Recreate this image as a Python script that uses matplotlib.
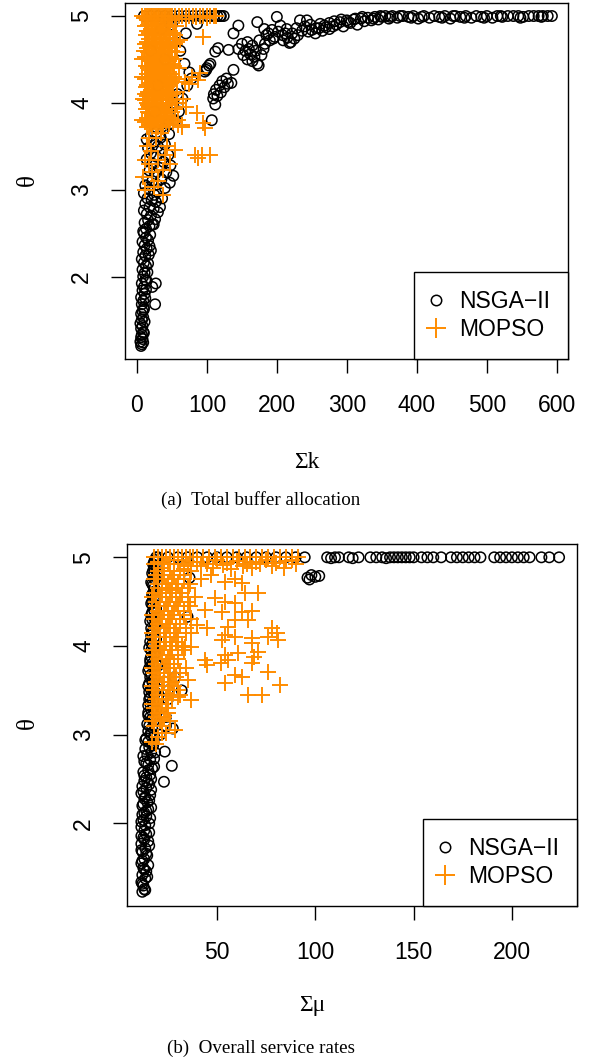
import matplotlib
matplotlib.use("Agg")
import matplotlib.pyplot as plt
from matplotlib.lines import Line2D

# ---------------- data: panel (a) total buffer allocation ----------------
nsga_k_x = [6,7,5,8,6,7,9,6,8,5,7,9,6,8,10,7,9,6,11,8,10,7,12,9,11,8,13,10,7,12,9,14,11,8,13,10,
            9,10,11,10,12,13,14,15,16,17,18,16,19,
            26,27,22,20,24,
            9,13,18,22,11,16,26,20,14,30,10,24,18,33,12,27,21,15,36,25,10,30,
            18,40,12,28,47,22,35,15,52,26,42,18,33,48,22,38,14,28,45,20,35,16,30,40,24,14,34,20,46,28,38,
            45,55,60,52,65,58,72,78,75,68,62,55,70,86,50,40,30,25,20,35,45,
            10,20,30,40,50,60,70,80,90,100,105,110,115,120,124,
            107,112,109,115,120,113,125,118,130,122,135,128,138,110,
            97,100,103,105,99,
            112,116,131,138,145,119,
            145,152,155,158,162,165,168,172,174,160,170,178,181,
            172,200,193,205,185,190,197,182,
            209,215,220,225,230,212,218,
            233,243,
            245,250,255,260,265,270,275,280,
            285,290,295,300,305,310,315,320,325,330,335,340,345,350,
            355,360,365,372,380,388,395,402,410,418,425,432,440,448,455,462,470,478,485,492,500,508,515,522,
            530,538,545,552,560,567,574,580,587,593,
            150,158,165,175,183,188,195,202,208,214,222,228,236,240,248,256,262,268,275,282,292,302,312,322,
            338,348,362,376,392,407,436,452,468,496,520,548,578]
nsga_k_y = [1.20,1.22,1.25,1.28,1.30,1.33,1.36,1.40,1.43,1.46,1.50,1.53,1.57,1.60,1.64,1.68,1.72,1.76,1.80,1.84,1.88,1.92,1.96,2.00,2.04,2.08,2.12,2.16,2.20,2.24,2.28,2.32,2.36,2.40,2.45,2.50,
            1.24,1.35,1.48,1.62,1.75,1.85,1.95,2.05,2.15,2.25,2.35,2.42,2.48,
            1.68,1.92,1.88,2.30,2.60,
            2.52,2.55,2.58,2.60,2.62,2.65,2.66,2.70,2.72,2.74,2.76,2.78,2.80,2.80,2.84,2.86,2.88,2.90,2.90,2.94,2.96,2.98,
            3.00,3.02,3.05,3.06,3.08,3.10,3.12,3.14,3.16,3.18,3.20,3.22,3.25,3.28,3.30,3.32,3.35,3.38,3.40,3.42,3.45,3.48,3.50,3.52,3.55,3.58,3.60,3.62,3.64,3.66,3.70,
            3.75,3.80,3.90,4.00,4.05,4.10,4.20,4.28,4.35,4.45,4.60,4.70,4.80,4.91,4.90,4.50,4.20,3.90,4.60,4.85,4.95,
            5.0,5.0,5.0,5.0,5.0,5.0,5.0,5.0,5.0,5.0,5.0,5.0,5.0,5.0,5.0,
            3.80,3.98,4.05,4.08,4.12,4.15,4.18,4.20,4.22,4.25,4.23,4.28,4.38,4.10,
            4.36,4.40,4.43,4.45,4.38,
            4.59,4.63,4.61,4.80,4.89,5.0,
            4.62,4.55,4.60,4.50,4.56,4.48,4.53,4.45,4.43,4.62,4.60,4.55,4.62,
            4.93,4.99,4.84,4.89,4.78,4.72,4.76,4.85,
            4.72,4.75,4.70,4.74,4.78,4.80,4.69,
            4.95,4.95,
            4.82,4.84,4.80,4.86,4.83,4.87,4.85,4.88,
            4.90,4.93,4.88,4.95,4.92,4.96,4.90,4.97,4.94,4.98,4.95,4.99,4.96,4.99,
            5.0,4.97,5.0,4.98,5.0,4.99,5.0,4.97,5.0,4.98,5.0,4.99,5.0,4.97,5.0,4.99,5.0,4.98,5.0,4.99,5.0,4.98,5.0,4.99,
            5.0,5.0,5.0,4.99,5.0,5.0,5.0,5.0,5.0,5.0,
            4.68,4.70,4.66,4.72,4.68,4.80,4.74,4.82,4.78,4.85,4.80,4.86,4.83,4.88,4.90,4.86,4.91,4.89,4.92,4.94,4.96,4.93,4.97,4.99,
            4.97,5.0,4.99,5.0,4.98,4.99,4.98,5.0,4.98,4.98,5.0,4.98,4.99]

mopso_k_x = [8,12,15,18,20,22,25,28,30,32,35,38,40,42,45,48,50,55,60,65,70,75,80,85,90,95,100,105,110,113,
             10,25,40,55,70,85,100,
             16,22,30,38,45, 18,25,33,42,52, 15,21,28,36,47,58, 17,24,31,40,50, 14,20,27,35,44,55,
             16,23,30,38,48,60, 13,19,26,34,43,53, 15,22,29,37,46, 12,18,25,33,41,52, 14,21,28,36,45,57,
             16,23,31,40,50, 13,19,27,35,44,59, 15,22,30,38,64,
             20,35,28,48,19,44,26,38,33,52,21,40,28,50,20,36,24,48,18,34,26,42,20,46,
             8,7,9,10,8,
             9,12,25,37,38,12,30,15,43,55,59,64,20,28,35,18,22,30,18,40,48,
             95,79,88,75,69,90,86,98,95,83,93,105,88,62,66,70,
             14,27,36,50, 12,26,34,48,56, 15,29,39,47, 13,22,31,44,55, 17,26,35,41,52,
             12,23,33,39,54, 14,21,29,37,46, 16,26,34,43,57, 12,23,31,40,49, 17,25,30,38,46,
             13,20,27,35,44,53, 18,26,33,42, 15,23,30,39,48, 11,20,27,36,44,56, 17,24,32,41,49,
             13,21,28,35,43, 16,24,31,39,47,58, 14,21,29,37,44, 11,18,26,34,41,50, 16,23,30,38,46,
             13,20,27,35,43,54, 17,24,32,39, 14,22,30,37,48, 12,19,25,33,41,52, 17,27,36]
mopso_k_y = [5.0]*30 + \
            [4.98,4.97,4.96,4.98,4.97,4.99,4.98] + \
            [4.9]*5 + [4.8]*5 + [4.7]*6 + [4.6]*5 + [4.5]*6 + \
            [4.4]*6 + [4.3]*6 + [4.2]*5 + [4.1]*6 + [4.0]*6 + \
            [3.9]*5 + [3.8]*6 + [3.72]*5 + \
            [4.85,4.85,4.75,4.75,4.65,4.65,4.55,4.55,4.45,4.45,4.35,4.35,4.25,4.25,4.15,4.15,4.05,4.05,3.95,3.95,3.85,3.85,3.76,3.76] + \
            [4.3,3.80,4.05,4.6,4.5] + \
            [3.15,3.0,3.03,2.94,3.23,3.34,3.34,3.5,3.5,3.46,3.75,3.75,3.45,3.6,3.65,3.3,3.2,3.1,3.6,3.4,3.3] + \
            [4.76,4.30,4.26,4.22,4.24,4.34,3.88,3.71,3.77,3.40,3.40,3.40,3.36,4.72,4.05,3.95] + \
            [4.95]*4 + [4.88]*5 + [4.83]*4 + [4.78]*5 + [4.73]*5 + \
            [4.68]*5 + [4.63]*5 + [4.58]*5 + [4.53]*5 + [4.48]*5 + \
            [4.43]*6 + [4.38]*4 + [4.33]*5 + [4.28]*6 + [4.23]*5 + \
            [4.18]*5 + [4.13]*6 + [4.08]*5 + [4.03]*6 + [3.98]*5 + \
            [3.93]*6 + [3.88]*4 + [3.83]*5 + [3.78]*6 + [3.74]*3

# ---------------- data: panel (b) overall service rates ----------------
nsga_m_x = [12,13,12.5,11.5,13.5,12,14,12.5,11.5,13,14.5,12,13.5,11.5,15,12.5,14,13,11.5,15.5,12.5,14,13,15,12,14.5,13,16,12.5,14,15.5,13,
            14,16,12.5,17,15,13,18,14.5,16.5,13.5,17.5,15,14,16,
            23.4,27,23,27.5,24,32,28.5,35,36,25,
            15,17,14.5,18,16,15,17.5,16,15.5,18,16.5,15,17,16,18.5,15.5,17,16,18,16.5,17.5,16,18,17,16.5,18.5,17,16.5,18,17.5,17,18.5,17.5,18,17,18.5,18,17.5,19,18,19,
            22,25,23,20,24,21,
            20,25,30,35,40,45,50,55,60,65,70,75,80,85,90,94.6,
            96,98,100,102,97,
            106,108,110,112,117,119,122,128,131,134,136,138,140,142,144,146,148,150,154,157,160,164,169,172,175,178,181,184,191,194,197,200,203,206,209,215,219,224,
            16.5,15.5,18.5,17,15,16.5,19,15,17.5,16,15.5,18.5,17,15.5,18,16.5,15,17.5,19.5,16,16.5,18.5,15.5,17,19,16.5,17.5,19,16,18,17,19,16.5,18,17,19,17.5,16.5,19,17,18,17.5,18.5,
            13.5,12,14.5,13,15,12,14,11.5,15.5,13,11.5,15.5,13.5,11.5,16,12,14,16.5,12.5,15.5,13.5,11.5,16.5,12,14.5,16.5,13,15,18,14,16,12.5,18.5,15.5,17,13.5,18]
nsga_m_y = [1.23,1.26,1.30,1.34,1.38,1.42,1.46,1.50,1.55,1.60,1.64,1.68,1.72,1.77,1.80,1.84,1.88,1.92,1.96,2.00,2.04,2.08,2.12,2.16,2.20,2.24,2.28,2.32,2.36,2.40,2.44,2.48,
            2.52,2.55,2.58,2.62,2.66,2.70,2.73,2.77,2.80,2.84,2.88,2.92,2.96,3.00,
            2.81,2.65,2.47,3.07,3.10,3.50,3.65,4.33,4.77,3.40,
            3.04,3.08,3.12,3.16,3.20,3.25,3.30,3.35,3.40,3.45,3.50,3.55,3.60,3.65,3.70,3.75,3.80,3.85,3.90,3.95,4.00,4.05,4.10,4.15,4.20,4.25,4.30,4.35,4.40,4.45,4.50,4.55,4.60,4.65,4.70,4.75,4.80,4.85,4.90,4.95,5.00,
            3.30,3.50,3.60,3.78,3.20,3.00,
            5.0,5.0,5.0,5.0,5.0,5.0,5.0,5.0,5.0,5.0,5.0,5.0,5.0,5.0,5.0,5.0,
            4.77,4.80,4.78,4.79,4.75,
            5.0,4.99,5.0,5.0,5.0,4.99,5.0,5.0,5.0,5.0,4.99,5.0,5.0,5.0,5.0,5.0,5.0,5.0,5.0,5.0,5.0,5.0,5.0,5.0,5.0,5.0,5.0,5.0,5.0,5.0,5.0,5.0,5.0,5.0,5.0,5.0,5.0,5.0,
            3.02,3.10,3.10,3.18,3.22,3.28,3.28,3.33,3.38,3.42,3.48,3.48,3.53,3.58,3.62,3.68,3.72,3.78,3.78,3.82,3.88,3.92,3.98,4.02,4.08,4.12,4.18,4.22,4.28,4.32,4.38,4.42,4.48,4.52,4.58,4.62,4.68,4.72,4.78,4.82,4.88,4.92,4.97,
            1.25,1.32,1.40,1.48,1.53,1.58,1.66,1.70,1.75,1.82,1.86,1.90,1.98,2.02,2.06,2.10,2.14,2.18,2.22,2.26,2.30,2.34,2.38,2.42,2.46,2.50,2.54,2.60,2.64,2.68,2.72,2.76,2.80,2.86,2.90,2.94,2.98]

mopso_m_x = [18,20,22,24,26,28,30,32,34,36,38,40,43,46,49,52,55,58,61,64,67,70,73,76,79,82,85,88,91,
             20,25,30,35,40,45,50,55,60,65,70,75,80,85,22,28,33,
             19,23,28,33, 20,25,30,36, 18,22,27,32, 19,24,29,35, 20,23,28,33, 18,22,26,31,37,
             19,24,29,34, 18,21,26,30, 19,23,27,32, 18,22,26,30, 19,24,28, 18,21,26,31, 19,23,27,
             18,22,26, 19,24, 18,21,25, 19,23, 18,22,
             22,24,20,28.5,27,25,30,17,19,
             42,47,54,59,62.6,64,70.7,38.6,49,54,59,44,52.4,62.6,67.7,65.7,59,55.4,40,45,54,59,52.4,77.8,80.4,75.8,81,67.7,67.7,70.7,60.5,54,55.4,45,52,67.7,69,75.8,59,62.6,54,82,65.7,72.7,37,30,35,44,33.5,36.6,37,26,
             18,23,28, 20,26,31,37, 18,22,27,33, 20,24,29,35, 17,21,26,31, 19,25,30,36, 17,21,27,33,
             20,25,31, 17,23,28,34, 19,24,29, 17,21,27,33, 20,25,30, 17,23,28,34, 20,25,29, 17,22,28,
             20,25,31, 17,22, 20,24, 17,21,26,
             42,48,53,57,63,68,72,78,84,88,90]
mopso_m_y = [5.0]*29 + \
            [4.95,4.92,4.97,4.90,4.95,4.93,4.97,4.94,4.96,4.92,4.95,4.97,4.94,4.96,4.88,4.85,4.87] + \
            [4.8]*4 + [4.7]*4 + [4.6]*4 + [4.5]*4 + [4.4]*4 + [4.3]*5 + \
            [4.2]*4 + [4.1]*4 + [4.0]*4 + [3.9]*4 + [3.8]*3 + [3.7]*4 + [3.6]*3 + \
            [3.5]*3 + [3.4]*2 + [3.3]*3 + [3.2]*2 + [3.1]*2 + \
            [3.02,3.02,2.97,3.05,3.39,3.24,3.50,2.92,2.90] + \
            [4.75,4.80,4.72,4.75,4.71,4.60,4.60,4.55,4.54,4.50,4.48,4.41,4.38,4.38,4.40,4.29,4.29,4.21,4.24,4.20,4.12,4.10,4.07,4.20,4.15,4.10,4.07,4.09,4.03,3.93,3.92,3.90,3.84,3.79,3.81,3.81,3.88,3.71,3.67,3.65,3.58,3.56,3.45,3.45,3.39,3.43,3.62,3.84,3.99,3.99,4.15,4.63] + \
            [4.92]*3 + [4.85]*4 + [4.75]*4 + [4.65]*4 + [4.55]*4 + [4.45]*4 + [4.35]*4 + \
            [4.25]*3 + [4.15]*4 + [4.05]*3 + [3.95]*4 + [3.85]*3 + [3.75]*4 + [3.65]*3 + [3.55]*3 + \
            [3.45]*3 + [3.35]*2 + [3.25]*2 + [3.15]*3 + \
            [4.90,4.88,4.91,4.87,4.90,4.88,4.92,4.90,4.88,4.97,4.93]

y_ticks = [2, 3, 4, 5]
k_ticks = [0, 100, 200, 300, 400, 500, 600]
m_ticks = [50, 100, 150, 200]
labels = ["NSGA\u2212II", "MOPSO"]

ORANGE = "#FF8C00"
SANS = "Liberation Sans"
SERIF = "Liberation Serif"
W, H = 590, 1061

fig = plt.figure(figsize=(W / 100, H / 100), dpi=100)


def px_axes(l, t, r, b):
    return fig.add_axes([l / W, 1 - b / H, (r - l) / W, (b - t) / H])


def style(ax, xticks, xlim, ylim):
    ax.set_xlim(*xlim)
    ax.set_ylim(*ylim)
    ax.set_xticks(xticks)
    ax.set_yticks(y_ticks)
    ax.set_xticklabels([str(t) for t in xticks], fontfamily=SANS, fontsize=16.5)
    ax.set_yticklabels([str(t) for t in y_ticks], fontfamily=SANS, fontsize=16.5,
                       rotation=90, va="center")
    ax.tick_params(direction="out", length=10, width=1, colors="black")
    ax.tick_params(axis="x", pad=15)
    ax.tick_params(axis="y", pad=13)
    for s in ax.spines.values():
        s.set_linewidth(1.0)
        s.set_color("black")


def draw(ax, nx, ny, mx, my):
    ax.scatter(nx, ny, s=56, facecolors="none", edgecolors="black", linewidths=1.1, zorder=2)
    ax.scatter(mx, my, s=130, marker="+", color=ORANGE, linewidths=1.4, zorder=3)
    handles = [Line2D([], [], ls="none", marker="o", mfc="none", mec="black", ms=7.5, mew=1.1),
               Line2D([], [], ls="none", marker="+", color=ORANGE, ms=14, mew=1.4)]
    leg = ax.legend(handles, labels, loc="lower right", borderaxespad=0, fancybox=False,
                    edgecolor="black", framealpha=1, prop={"family": SANS, "size": 16.5},
                    handletextpad=0.8, borderpad=0.77, labelspacing=0.25, handlelength=0.4)
    leg.get_frame().set_linewidth(1.0)


ax1 = px_axes(125, 3, 568, 359)
draw(ax1, nsga_k_x, nsga_k_y, mopso_k_x, mopso_k_y)
style(ax1, k_ticks, (-17, 616), (1.05, 5.15))

ax2 = px_axes(127, 544, 577, 906)
draw(ax2, nsga_m_x, nsga_m_y, mopso_m_x, mopso_m_y)
style(ax2, m_ticks, (4.2, 233.1), (1.07, 5.15))

fig.text(28 / W, 1 - 180 / H, "\u03b8", family=SERIF, fontsize=18, rotation=90, ha="center", va="center")
fig.text(28 / W, 1 - 723 / H, "\u03b8", family=SERIF, fontsize=18, rotation=90, ha="center", va="center")
fig.text(307 / W, 1 - 463 / H, "\u03a3k", family=SERIF, fontsize=17, ha="center", va="center")
fig.text(312 / W, 1 - 1005 / H, "\u03a3\u03bc", family=SERIF, fontsize=17, ha="center", va="center")
fig.text(261 / W, 1 - 500 / H, "(a)  Total buffer allocation", family=SERIF, fontsize=13.7, ha="center", va="center")
fig.text(261 / W, 1 - 1048 / H, "(b)  Overall service rates", family=SERIF, fontsize=13.7, ha="center", va="center")

fig.savefig("out.png", dpi=100)
